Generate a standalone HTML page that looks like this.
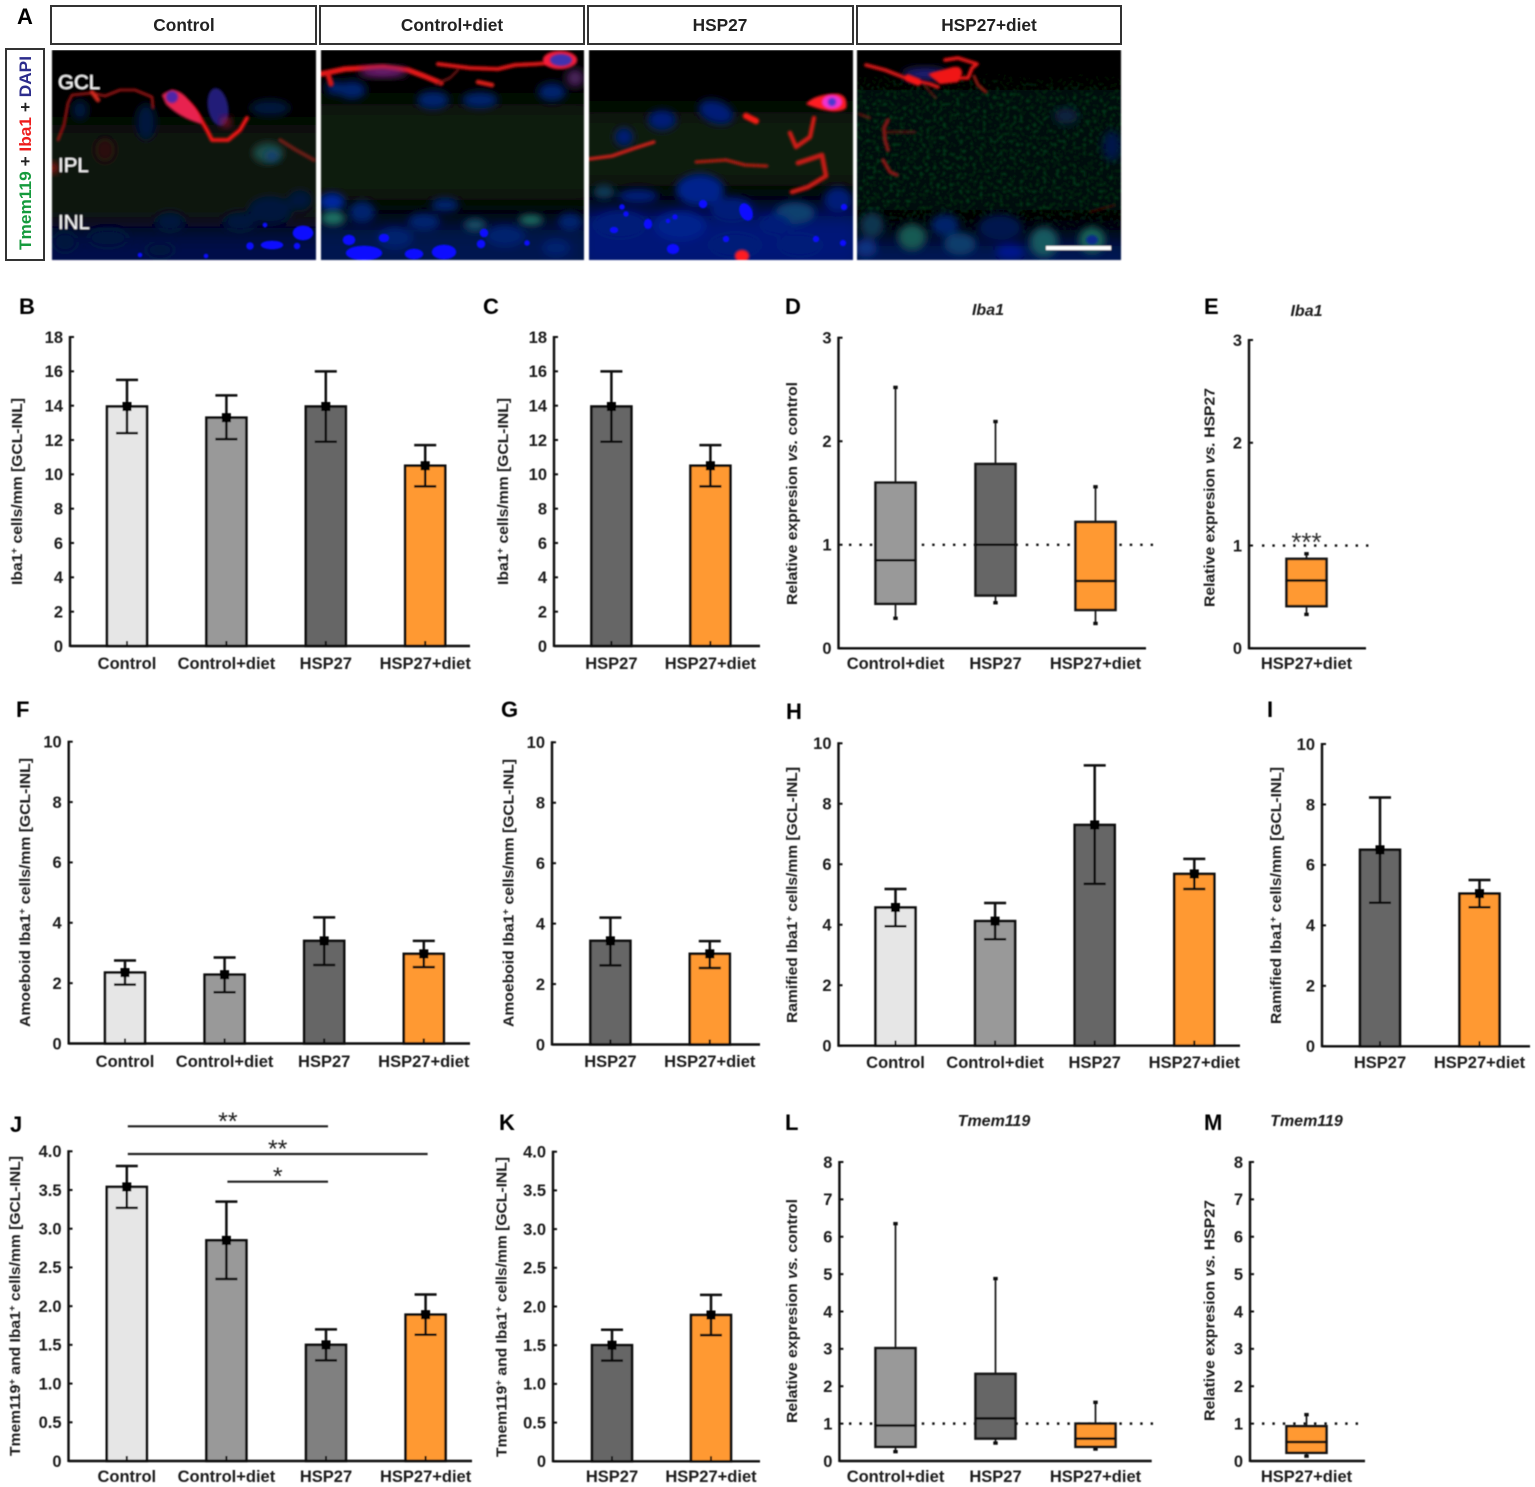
<!DOCTYPE html>
<html lang="en">
<head>
<meta charset="utf-8">
<title>Microglia figure: Iba1 and Tmem119 in control and HSP27 retinae</title>
<style>
html,body{margin:0;padding:0;background:#fff;}
#figure{display:block;width:1535px;height:1487px;font-family:"Liberation Sans",sans-serif;}
text{font-family:"Liberation Sans",sans-serif;}
</style>
</head>
<body>
<svg id="figure" xmlns="http://www.w3.org/2000/svg" width="1535" height="1487" viewBox="0 0 1535 1487">
<defs>
<filter id="b05" x="-20%" y="-20%" width="140%" height="140%"><feGaussianBlur stdDeviation="0.4"/></filter>
<filter id="soft" x="0" y="0" width="100%" height="100%"><feGaussianBlur stdDeviation="0.8"/></filter>
<filter id="b1" x="-30%" y="-30%" width="160%" height="160%"><feGaussianBlur stdDeviation="1"/></filter>
<filter id="b3" x="-40%" y="-40%" width="180%" height="180%"><feGaussianBlur stdDeviation="4"/></filter>
<filter id="b8" x="-30%" y="-60%" width="160%" height="220%"><feGaussianBlur stdDeviation="12"/></filter>
<filter id="speck" x="0" y="0" width="100%" height="100%" color-interpolation-filters="sRGB">
<feTurbulence type="fractalNoise" baseFrequency="0.3" numOctaves="2" seed="7"/>
<feColorMatrix type="matrix" values="0 0 0 0 0.02  0 0 0 0 0.26  0 0 0 0 0.09  0 5 0 0 -2.6"/>
<feGaussianBlur stdDeviation="0.7"/>
</filter>
<linearGradient id="speckFade" x1="0" y1="0" x2="0" y2="1">
<stop offset="0" stop-color="#fff" stop-opacity="0"/><stop offset="0.15" stop-color="#fff" stop-opacity="0.9"/><stop offset="0.8" stop-color="#fff" stop-opacity="0.9"/><stop offset="1" stop-color="#fff" stop-opacity="0"/>
</linearGradient>
<mask id="speckMask" maskUnits="userSpaceOnUse" x="857" y="70" width="264" height="170"><rect x="857" y="70" width="264" height="170" fill="url(#speckFade)"/></mask>
</defs>
<rect width="1535" height="1487" fill="#fff"/>

<text x="17" y="24" font-size="22" font-weight="700" fill="#000">A</text>

<g fill="#fff" stroke="#333" stroke-width="2">
<rect x="51" y="6" width="265" height="38"/>
<rect x="320" y="6" width="264" height="38"/>
<rect x="588" y="6" width="265" height="38"/>
<rect x="857" y="6" width="264" height="38"/>
</g>
<g font-size="17.3" font-weight="700" fill="#222" text-anchor="middle">
<text x="184" y="31">Control</text>
<text x="452" y="31">Control+diet</text>
<text x="720" y="31">HSP27</text>
<text x="989" y="31">HSP27+diet</text>
</g>

<g>
<rect x="6" y="49" width="38" height="211" fill="#fff" stroke="#333" stroke-width="2"/>
<text transform="translate(31,153) rotate(-90)" text-anchor="middle" font-size="16.5" font-weight="700" textLength="194" lengthAdjust="spacingAndGlyphs"><tspan fill="#149a3c">Tmem119</tspan><tspan fill="#222"> + </tspan><tspan fill="#ee1c1c">Iba1</tspan><tspan fill="#222"> + </tspan><tspan fill="#2c2c8c">DAPI</tspan></text>
</g>

<!-- Micrograph 1 -->
<g filter="url(#soft)">
<svg x="52" y="50" width="264" height="210" viewBox="52 50 264 210">
<rect x="52" y="50" width="264" height="210" fill="#000"/>
<rect x="30" y="125" width="310" height="105" fill="#07190b" filter="url(#b8)"/>
<rect x="30" y="228" width="310" height="60" fill="#00104a" filter="url(#b8)"/>
<g filter="url(#b3)" fill="#03123e">
<ellipse cx="146" cy="122" rx="10" ry="18"/><ellipse cx="80" cy="110" rx="8" ry="10"/><ellipse cx="270" cy="108" rx="20" ry="8"/>
<ellipse cx="170" cy="222" rx="14" ry="9"/><ellipse cx="270" cy="210" rx="22" ry="14"/><ellipse cx="240" cy="222" rx="16" ry="9"/><ellipse cx="300" cy="200" rx="12" ry="10"/>
<ellipse cx="108" cy="238" rx="20" ry="9"/><ellipse cx="160" cy="250" rx="14" ry="8"/><ellipse cx="65" cy="242" rx="12" ry="10"/>
</g>
<ellipse cx="268" cy="153" rx="15" ry="10" fill="#1a504c" filter="url(#b3)"/>
<ellipse cx="272" cy="156" rx="6" ry="5" fill="#123a80" filter="url(#b3)"/>
<ellipse cx="105" cy="150" rx="10" ry="12" fill="#2c0e0c" filter="url(#b3)"/>
<ellipse cx="218" cy="107" rx="10" ry="19" fill="#221a78" filter="url(#b1)" transform="rotate(-10 218 107)"/>
<ellipse cx="226" cy="122" rx="5" ry="5" fill="#a01438" filter="url(#b3)"/>
<g fill="none" stroke-linecap="round" stroke-linejoin="round" filter="url(#b1)">
<path d="M58 140 L64 125 L68 103 L72 95 L92 93 L105 96 L120 90 L135 90 L152 97 L153 108" stroke="#c81616" stroke-width="1.8"/>
<path d="M92 92 L98 100" stroke="#d82a1c" stroke-width="4"/>
<path d="M172 92 Q190 100 200 118 L208 132 L212 140 L228 140 L240 130 L247 118" stroke="#f81616" stroke-width="3.6"/>
<path d="M280 140 L296 150 L314 160" stroke="#6e1a12" stroke-width="3.5"/>
</g>
<path d="M162 95 Q176 84 188 100 Q200 112 202 124 Q180 118 166 104 Z" fill="#e82050" filter="url(#b1)"/>
<ellipse cx="172" cy="97" rx="6" ry="6" fill="#5026a8" filter="url(#b1)"/>
<circle cx="53" cy="168" r="5" fill="#b01c0e" filter="url(#b3)"/>
<g fill="#0808ff">
<ellipse cx="303" cy="233" rx="10" ry="7"/><ellipse cx="272" cy="245" rx="11" ry="4"/><circle cx="250" cy="246" r="3.5"/><circle cx="297" cy="246" r="3"/><circle cx="265" cy="225" r="2"/><circle cx="140" cy="255" r="2"/><circle cx="206" cy="256" r="2"/>
</g>
<g font-size="20.5" fill="#fff">
<text x="58" y="89">GCL</text>
<text x="58" y="172">IPL</text>
<text x="58" y="229">INL</text>
</g>
</svg>

<!-- Micrograph 2 -->
<svg x="321" y="50" width="263" height="210" viewBox="321 50 263 210">
<rect x="321" y="50" width="263" height="210" fill="#000"/>
<rect x="300" y="104" width="300" height="96" fill="#071a0c" filter="url(#b8)"/>
<rect x="300" y="222" width="300" height="60" fill="#001250" filter="url(#b8)"/>
<g filter="url(#b3)" fill="#04206e">
<ellipse cx="352" cy="90" rx="14" ry="9"/><ellipse cx="433" cy="100" rx="16" ry="9"/><ellipse cx="480" cy="100" rx="18" ry="8"/><ellipse cx="552" cy="92" rx="14" ry="9"/><ellipse cx="335" cy="88" rx="9" ry="7"/>
<ellipse cx="332" cy="202" rx="13" ry="9" fill="#0428a0"/><ellipse cx="362" cy="212" rx="13" ry="11"/><ellipse cx="424" cy="222" rx="16" ry="9"/><ellipse cx="445" cy="205" rx="14" ry="7"/><ellipse cx="505" cy="236" rx="20" ry="11"/><ellipse cx="570" cy="222" rx="12" ry="9"/><ellipse cx="556" cy="248" rx="14" ry="9"/><ellipse cx="395" cy="238" rx="18" ry="11"/>
</g>
<g filter="url(#b3)" fill="#1a7466">
<ellipse cx="333" cy="218" rx="12" ry="7"/><ellipse cx="531" cy="220" rx="12" ry="5"/><ellipse cx="475" cy="225" rx="11" ry="6" fill="#124f66"/>
</g>
<g fill="none" stroke-linecap="round" stroke-linejoin="round" filter="url(#b1)">
<path d="M321 74 L345 69 L383 67 L408 70 L424 76 L441 83" stroke="#e81818" stroke-width="5"/>
<path d="M328 74 L331 84" stroke="#d81616" stroke-width="5"/>
<path d="M438 64 L470 68 L498 69 L515 65 L536 64 L560 62" stroke="#ea1818" stroke-width="3.6"/>
<path d="M478 82 L492 85" stroke="#e01c16" stroke-width="4"/>
<path d="M458 70 L450 78 L436 84" stroke="#8a1414" stroke-width="1.8"/>
</g>
<ellipse cx="383" cy="72" rx="24" ry="5" fill="#7a2080" filter="url(#b3)"/>
<ellipse cx="560" cy="60" rx="17" ry="9" fill="#f81c3a" filter="url(#b1)"/>
<ellipse cx="561" cy="60" rx="11" ry="6" fill="#4030b0" filter="url(#b1)"/>
<ellipse cx="575" cy="78" rx="9" ry="9" fill="#48205a" filter="url(#b3)"/>
<g fill="#0808ff">
<ellipse cx="364" cy="253" rx="18" ry="7"/><ellipse cx="349" cy="240" rx="6" ry="5"/><ellipse cx="384" cy="238" rx="5" ry="4"/><ellipse cx="444" cy="252" rx="12" ry="7"/><ellipse cx="414" cy="254" rx="9" ry="5"/><circle cx="484" cy="233" r="4"/><circle cx="481" cy="244" r="4"/><circle cx="527" cy="243" r="2.5"/>
</g>
</svg>

<!-- Micrograph 3 -->
<svg x="589" y="50" width="264" height="210" viewBox="589 50 264 210">
<rect x="589" y="50" width="264" height="210" fill="#000"/>
<rect x="570" y="112" width="300" height="74" fill="#071a0c" filter="url(#b8)"/>
<rect x="570" y="208" width="300" height="70" fill="#001478" filter="url(#b8)"/>
<g filter="url(#b3)" fill="#041f78">
<ellipse cx="662" cy="120" rx="14" ry="10"/><ellipse cx="716" cy="112" rx="18" ry="11" transform="rotate(20 716 112)"/><ellipse cx="624" cy="137" rx="9" ry="9"/>
<ellipse cx="700" cy="190" rx="24" ry="16" fill="#06208c"/><ellipse cx="638" cy="196" rx="20" ry="7"/><ellipse cx="604" cy="192" rx="11" ry="7" fill="#083a58"/><ellipse cx="620" cy="225" rx="28" ry="15"/><ellipse cx="680" cy="226" rx="26" ry="15" fill="#06208c"/><ellipse cx="732" cy="210" rx="22" ry="13"/><ellipse cx="795" cy="213" rx="20" ry="11" fill="#0c406e"/><ellipse cx="838" cy="200" rx="14" ry="13"/><ellipse cx="735" cy="245" rx="28" ry="14"/><ellipse cx="800" cy="245" rx="24" ry="13"/><ellipse cx="775" cy="225" rx="16" ry="11"/>
</g>
<g fill="none" stroke-linecap="round" stroke-linejoin="round" filter="url(#b1)">
<path d="M589 159 L612 156 L635 148 L654 142" stroke="#e0241a" stroke-width="2.8"/>
<path d="M696 162 L726 160 L745 165 L767 166" stroke="#c81c18" stroke-width="2.6"/>
<path d="M814 118 L810 137 L796 147 L790 133" stroke="#d41c18" stroke-width="4"/>
<path d="M798 163 L822 155 L826 176 L808 187 L792 192" stroke="#c81a16" stroke-width="4.5"/>
<path d="M746 116 L756 121" stroke="#f81a12" stroke-width="6"/>
</g>
<path d="M806 104 Q815 94 838 94 Q848 96 846 108 Q836 116 806 104Z" fill="#ff1c24" filter="url(#b1)"/>
<ellipse cx="832" cy="102" rx="10" ry="7" fill="#f030d0" filter="url(#b1)"/>
<circle cx="832" cy="102" r="4" fill="#4838d0" filter="url(#b1)"/>
<ellipse cx="742" cy="256" rx="7" ry="6" fill="#ff1c24" filter="url(#b1)"/>
<g fill="#0808ff">
<ellipse cx="746" cy="212" rx="6" ry="9" transform="rotate(-25 746 212)"/><ellipse cx="614" cy="230" rx="4" ry="3"/><ellipse cx="648" cy="224" rx="4" ry="5"/><ellipse cx="673" cy="249" rx="6" ry="5"/><ellipse cx="703" cy="204" rx="4" ry="4"/><ellipse cx="844" cy="207" rx="3" ry="3"/><circle cx="622" cy="207" r="2.5"/><circle cx="626" cy="214" r="2.5"/><circle cx="816" cy="239" r="3"/><circle cx="675" cy="217" r="2.5"/><circle cx="668" cy="221" r="2"/><circle cx="726" cy="239" r="3"/><circle cx="843" cy="243" r="3"/>
</g>
</svg>

<!-- Micrograph 4 -->
<svg x="857" y="50" width="264" height="210" viewBox="857 50 264 210">
<rect x="857" y="50" width="264" height="210" fill="#000"/>
<rect x="840" y="90" width="300" height="120" fill="#04110a" filter="url(#b8)"/>
<g mask="url(#speckMask)"><rect x="857" y="70" width="264" height="170" filter="url(#speck)"/></g>
<rect x="840" y="238" width="300" height="40" fill="#031558" filter="url(#b8)"/>
<g filter="url(#b3)">
<ellipse cx="1066" cy="116" rx="12" ry="8" fill="#082240"/><ellipse cx="1112" cy="146" rx="9" ry="15" fill="#04134a"/>
<ellipse cx="872" cy="225" rx="12" ry="13" fill="#083450"/><ellipse cx="912" cy="237" rx="14" ry="13" fill="#165a52"/><ellipse cx="945" cy="225" rx="14" ry="11" fill="#03226a"/><ellipse cx="1000" cy="228" rx="22" ry="14" fill="#03164e"/><ellipse cx="960" cy="244" rx="16" ry="11" fill="#083e6c"/><ellipse cx="1044" cy="242" rx="14" ry="15" fill="#165a60"/><ellipse cx="1092" cy="240" rx="13" ry="13" fill="#186658"/><ellipse cx="866" cy="248" rx="11" ry="9" fill="#083080"/><ellipse cx="1010" cy="252" rx="14" ry="7" fill="#031490"/>
</g>
<ellipse cx="1092" cy="240" rx="6" ry="5" fill="#082a8c" filter="url(#b1)"/>
<ellipse cx="925" cy="74" rx="22" ry="6" fill="#1e1a78" filter="url(#b3)"/>
<g fill="none" stroke-linecap="round" stroke-linejoin="round" filter="url(#b1)">
<path d="M866 65 L885 70 L908 79 L930 84 L938 87" stroke="#e81818" stroke-width="3.2"/>
<path d="M908 78 L918 82" stroke="#f81616" stroke-width="7"/>
<path d="M934 75 L952 72 L958 78 L968 78 L972 68 L977 64 L958 58 L945 60" stroke="#f01616" stroke-width="3.2"/>
<path d="M974 76 L978 85 L986 92" stroke="#a81a16" stroke-width="2.4"/>
<path d="M925 86 L934 96 L936 98" stroke="#741812" stroke-width="1.5"/>
<path d="M859 114 L870 118" stroke="#6a1610" stroke-width="2"/>
<path d="M888 120 L884 128 L885 140 L888 150" stroke="#8a1812" stroke-width="3.4"/>
<path d="M886 132 L915 132" stroke="#6a1610" stroke-width="1.8"/>
<path d="M883 160 L890 172 L897 175" stroke="#9a1812" stroke-width="3"/>
<path d="M1090 212 L1115 205" stroke="#4a100a" stroke-width="1.5"/>
</g>
<path d="M928 74 L950 68 Q962 64 962 74 L958 82 L940 84 Z" fill="#f01616" filter="url(#b1)"/>
<rect x="1046" y="246" width="65" height="4" fill="#fff"/>
</svg>
</g>

<g id="charts" filter="url(#b05)"></g>
</svg>

<script>
// ---- category and tick arrays ----
const categoriesAll = ["Control", "Control+diet", "HSP27", "HSP27+diet"];
const categoriesPair = ["HSP27", "HSP27+diet"];
const categoriesExpr = ["Control+diet", "HSP27", "HSP27+diet"];
const categoriesSingle = ["HSP27+diet"];
const ticksIba = ["0","2","4","6","8","10","12","14","16","18"];
const ticksTen = ["0","2","4","6","8","10"];
const ticksTmem = ["0","0.5","1.0","1.5","2.0","2.5","3.0","3.5","4.0"];
const ticksExprIba = ["0","1","2","3"];
const ticksExprTmem = ["0","1","2","3","4","5","6","7","8"];

// ---- panel B ----
const bMeans = [13.95, 13.3, 13.95, 10.5];
const bUpper = [15.5, 14.6, 16.0, 11.7];
const bLower = [12.4, 12.05, 11.9, 9.3];
// ---- panel C ----
const cMeans = [13.95, 10.5];
const cUpper = [16.0, 11.7];
const cLower = [11.9, 9.3];
// ---- panel F ----
const fMeans = [2.35, 2.28, 3.4, 2.97];
const fUpper = [2.75, 2.85, 4.18, 3.4];
const fLower = [1.95, 1.7, 2.6, 2.53];
// ---- panel G ----
const gMeans = [3.43, 3.0];
const gUpper = [4.2, 3.42];
const gLower = [2.62, 2.53];
// ---- panel H ----
const hMeans = [4.57, 4.12, 7.3, 5.68];
const hUpper = [5.18, 4.72, 9.27, 6.18];
const hLower = [3.95, 3.52, 5.35, 5.18];
// ---- panel I ----
const iMeans = [6.5, 5.05];
const iUpper = [8.23, 5.5];
const iLower = [4.75, 4.6];
// ---- panel J ----
const jMeans = [3.54, 2.85, 1.5, 1.89];
const jUpper = [3.81, 3.35, 1.7, 2.15];
const jLower = [3.27, 2.35, 1.3, 1.63];
// ---- panel K ----
const kMeans = [1.5, 1.89];
const kUpper = [1.7, 2.15];
const kLower = [1.3, 1.63];
// ---- panel D ----
const dMax = [2.52, 2.19, 1.56];
const dQ3 = [1.6, 1.78, 1.22];
const dMedian = [0.85, 1.0, 0.65];
const dQ1 = [0.43, 0.51, 0.37];
const dMin = [0.29, 0.44, 0.24];
// ---- panel E ----
const eMax = [0.92];
const eQ3 = [0.87];
const eMedian = [0.66];
const eQ1 = [0.41];
const eMin = [0.33];
// ---- panel L ----
const lMax = [6.35, 4.88, 1.57];
const lQ3 = [3.02, 2.33, 1.0];
const lMedian = [0.95, 1.14, 0.6];
const lQ1 = [0.38, 0.6, 0.38];
const lMin = [0.25, 0.48, 0.32];
// ---- panel M ----
const mMax = [1.24];
const mQ3 = [0.93];
const mMedian = [0.51];
const mQ1 = [0.22];
const mMin = [0.13];
const referenceLevel = [1];
// significance brackets in panel J: [from category, to category, label]
const jBrackets = [[0, 2, "**"], [0, 3, "**"], [1, 2, "*"]];

const NS = "http://www.w3.org/2000/svg";
const root = document.getElementById("charts");
const fills = {"Control":"#e6e6e6","Control+diet":"#999999","HSP27":"#666666","HSP27+diet":"#ff9933"};
const INK = "#0c0c0c";

function mk(tag, attrs, parent) {
  const n = document.createElementNS(NS, tag);
  for (const k in attrs) n.setAttribute(k, attrs[k]);
  parent.appendChild(n);
  return n;
}
function xAt(L, i) { return L.x0 + i * L.step; }
function yAt(L, ticks, v) {
  const lo = parseFloat(ticks[0]), hi = parseFloat(ticks[ticks.length - 1]);
  return L.y0 - (v - lo) / (hi - lo) * (L.y0 - L.yTop);
}

function drawTitle(parent, L) {
  const t = mk("text", {transform:"translate(" + (L.titleX + 5) + "," + ((L.titleTop + L.titleBot) / 2) + ") rotate(-90)",
    "text-anchor":"middle","font-size":14.5,"font-weight":700,fill:"#1e1e1e",
    textLength:(L.titleBot - L.titleTop),lengthAdjust:"spacingAndGlyphs"}, parent);
  
  
  let pendingDy = 0;
  L.title.forEach(function (part) {
    const s = mk("tspan", {}, t);
    s.textContent = part.t;
    if (part.sup) { s.setAttribute("font-size", "9"); s.setAttribute("dy", "-5"); pendingDy = 5; }
    else if (pendingDy) { s.setAttribute("dy", String(pendingDy)); pendingDy = 0; }
    if (part.it) s.setAttribute("font-style", "italic");
  });
}

function drawFrame(g, L, ticks, cats) {
  const letter = mk("text", {x:L.letterX,y:L.letterY,"font-size":22,"font-weight":700,fill:"#000"}, g);
  
  
  letter.textContent = L.letter;
  drawTitle(g, L);
  ticks.forEach(function (lab) {
    const y = yAt(L, ticks, parseFloat(lab));
    const tick = mk("line", {x1:L.axisX,x2:L.axisX + 4,y1:y,y2:y,stroke:INK,"stroke-width":2}, g);
    
    
    const tl = mk("text", {x:L.axisX - 7,y:y + 5.8,"text-anchor":"end","font-size":16.5,"font-weight":700,fill:"#1e1e1e"}, g);
    
    
    tl.textContent = lab;
  });
  cats.forEach(function (c, i) {
    const cl = mk("text", {x:xAt(L, i),y:L.labelY,"text-anchor":"middle","font-size":16.5,"font-weight":700,fill:"#1e1e1e"}, g);
    
    
    cl.textContent = c;
  });
}
function drawAxes(g, L) {
  const ya = mk("line", {x1:L.axisX,x2:L.axisX,y1:L.yTop - 1,y2:L.y0 + 1,stroke:INK,"stroke-width":2.4}, g);
  
  
  const xa = mk("line", {x1:L.axisX,x2:L.axisEnd,y1:L.y0,y2:L.y0,stroke:INK,"stroke-width":2.4}, g);
  
  
}

function drawBars(name, L, ticks, cats, means, upper, lower, fillOverride) {
  const g = mk("g", {}, root);
  
  
  drawFrame(g, L, ticks, cats);
  cats.forEach(function (c, i) {
    const cx = xAt(L, i), yv = yAt(L, ticks, means[i]);
    const fill = (fillOverride && fillOverride[c]) || fills[c];
    const bar = mk("rect", {x:cx - 20,y:yv,width:40,height:L.y0 - yv,fill:fill,stroke:INK,"stroke-width":2.6}, g);
    
    
    const stem = mk("line", {x1:cx,x2:cx,y1:yAt(L, ticks, upper[i]),y2:yAt(L, ticks, lower[i]),stroke:INK,"stroke-width":2.5}, g);
    
    
    const capU = mk("line", {x1:cx - 11,x2:cx + 11,y1:yAt(L, ticks, upper[i]),y2:yAt(L, ticks, upper[i]),stroke:INK,"stroke-width":2.5}, g);
    
    
    const capL = mk("line", {x1:cx - 11,x2:cx + 11,y1:yAt(L, ticks, lower[i]),y2:yAt(L, ticks, lower[i]),stroke:INK,"stroke-width":2.5}, g);
    
    
    const dot = mk("rect", {x:cx - 4.5,y:yv - 4.5,width:9,height:9,fill:"#000"}, g);
    
    
    const xt = mk("line", {x1:cx,x2:cx,y1:L.y0,y2:L.y0 - 5,stroke:INK,"stroke-width":2}, g);
    
    
  });
  drawAxes(g, L);
  return g;
}

function drawBoxes(name, L, ticks, cats, wMax, q3, med, q1, wMin) {
  const g = mk("g", {}, root);
  
  
  drawFrame(g, L, ticks, cats);
  const gene = mk("text", {x:L.geneX,y:L.geneY,"text-anchor":"middle","font-size":16,"font-weight":700,"font-style":"italic",fill:"#1e1e1e"}, g);
  
  
  gene.textContent = L.gene;
  const refY = yAt(L, ticks, referenceLevel[0]);
  const ref = mk("line", {x1:L.refX1,x2:L.refX2,y1:refY,y2:refY,stroke:INK,"stroke-width":2.4,"stroke-dasharray":"2.4 8"}, g);
  
  
  cats.forEach(function (c, i) {
    const cx = xAt(L, i);
    const whisker = mk("line", {x1:cx,x2:cx,y1:yAt(L, ticks, wMax[i]),y2:yAt(L, ticks, wMin[i]),stroke:"#222","stroke-width":1.8}, g);
    
    
    const capTop = mk("rect", {x:cx - 2.2,y:yAt(L, ticks, wMax[i]) - 1.7,width:4.4,height:3.4,fill:"#111"}, g);
    
    
    const capBot = mk("rect", {x:cx - 2.2,y:yAt(L, ticks, wMin[i]) - 1.7,width:4.4,height:3.4,fill:"#111"}, g);
    
    
    const top = yAt(L, ticks, q3[i]), bot = yAt(L, ticks, q1[i]);
    const box = mk("rect", {x:cx - 20,y:top,width:40,height:bot - top,fill:fills[c],stroke:"#141414","stroke-width":2.6}, g);
    
    
    const m = yAt(L, ticks, med[i]);
    const median = mk("line", {x1:cx - 20,x2:cx + 20,y1:m,y2:m,stroke:"#0c0c0c","stroke-width":2.5}, g);
    
    
  });
  drawAxes(g, L);
  return g;
}

function ttl(a, sup, b) { return [{t:a},{t:sup,sup:true},{t:b}]; }
const ibaTitle = ttl("Iba1", "+", " cells/mm [GCL-INL]");
const amoTitle = ttl("Amoeboid Iba1", "+", " cells/mm [GCL-INL]");
const ramTitle = ttl("Ramified Iba1", "+", " cells/mm [GCL-INL]");
const tmTitle = [{t:"Tmem119"},{t:"+",sup:true},{t:" and Iba1"},{t:"+",sup:true},{t:" cells/mm [GCL-INL]"}];
const ctlTitle = [{t:"Relative expresion "},{t:"vs.",it:true},{t:" control"}];
const hspTitle = [{t:"Relative expresion "},{t:"vs.",it:true},{t:" HSP27"}];

drawBars("panel-b-iba1-cells", {letter:"B",letterX:19,letterY:314,x0:127,step:99.4,axisX:70,axisEnd:470,y0:646,yTop:337,labelY:669,title:ibaTitle,titleX:17,titleTop:398,titleBot:585}, ticksIba, categoriesAll, bMeans, bUpper, bLower);
drawBars("panel-c-iba1-cells", {letter:"C",letterX:483,letterY:314,x0:611.4,step:99,axisX:554,axisEnd:760,y0:646,yTop:337,labelY:669,title:ibaTitle,titleX:503,titleTop:398,titleBot:585}, ticksIba, categoriesPair, cMeans, cUpper, cLower);
drawBars("panel-f-amoeboid-cells", {letter:"F",letterX:16,letterY:717,x0:125,step:99.6,axisX:68.7,axisEnd:470,y0:1043.5,yTop:741.7,labelY:1067,title:amoTitle,titleX:25,titleTop:758,titleBot:1027}, ticksTen, categoriesAll, fMeans, fUpper, fLower);
drawBars("panel-g-amoeboid-cells", {letter:"G",letterX:501,letterY:717,x0:610.4,step:99.4,axisX:552,axisEnd:760,y0:1044.5,yTop:742.3,labelY:1067,title:amoTitle,titleX:508.5,titleTop:759,titleBot:1027}, ticksTen, categoriesPair, gMeans, gUpper, gLower);
drawBars("panel-h-ramified-cells", {letter:"H",letterX:786,letterY:719,x0:895.5,step:99.6,axisX:838.5,axisEnd:1240,y0:1045.7,yTop:743.3,labelY:1068,title:ramTitle,titleX:792,titleTop:767,titleBot:1023}, ticksTen, categoriesAll, hMeans, hUpper, hLower);
drawBars("panel-i-ramified-cells", {letter:"I",letterX:1267,letterY:717,x0:1380,step:99.5,axisX:1322,axisEnd:1530,y0:1046.3,yTop:744,labelY:1068,title:ramTitle,titleX:1276,titleTop:767,titleBot:1024}, ticksTen, categoriesPair, iMeans, iUpper, iLower);
const panelJLayout = {letter:"J",letterX:10,letterY:1132,x0:126.8,step:99.6,axisX:68.5,axisEnd:472,y0:1461,yTop:1151.3,labelY:1482,title:tmTitle,titleX:15,titleTop:1156,titleBot:1456};
const panelJ = drawBars("panel-j-double-positive-cells", panelJLayout, ticksTmem, categoriesAll, jMeans, jUpper, jLower, {"HSP27":"#808080"});
drawBars("panel-k-double-positive-cells", {letter:"K",letterX:499,letterY:1130,x0:612,step:99,axisX:553,axisEnd:760,y0:1461.3,yTop:1151.7,labelY:1482,title:tmTitle,titleX:501.5,titleTop:1157,titleBot:1457}, ticksTmem, categoriesPair, kMeans, kUpper, kLower);

const bracketRows = [1126.3, 1154, 1181.7];
jBrackets.forEach(function (b, i) {
  const x1 = xAt(panelJLayout, b[0]) + 1, x2 = xAt(panelJLayout, b[1]) + 2;
  const line = mk("line", {x1:x1,x2:x2,y1:bracketRows[i],y2:bracketRows[i],stroke:"#222","stroke-width":2.2}, panelJ);
  
  
  const star = mk("text", {x:(x1 + x2) / 2,y:bracketRows[i] + 3.5,"text-anchor":"middle","font-size":25,fill:"#222"}, panelJ);
  
  
  star.textContent = b[2];
});

drawBoxes("panel-d-iba1-expression", {letter:"D",letterX:785,letterY:314,x0:895.5,step:100,axisX:838.5,axisEnd:1146,y0:648.3,yTop:337.7,labelY:669,title:ctlTitle,titleX:792,titleTop:382,titleBot:605,gene:"Iba1",geneX:988,geneY:315,refX1:849,refX2:1153}, ticksExprIba, categoriesExpr, dMax, dQ3, dMedian, dQ1, dMin);
const panelE = drawBoxes("panel-e-iba1-expression", {letter:"E",letterX:1204,letterY:314,x0:1306.5,step:0,axisX:1249,axisEnd:1366,y0:648.3,yTop:340,labelY:669,title:hspTitle,titleX:1209.5,titleTop:388,titleBot:607,gene:"Iba1",geneX:1306.5,geneY:316,refX1:1262,refX2:1373}, ticksExprIba, categoriesSingle, eMax, eQ3, eMedian, eQ1, eMin);
const eStars = mk("text", {x:1306.5,y:551,"text-anchor":"middle","font-size":26,fill:"#333"}, panelE);


eStars.textContent = "***";
drawBoxes("panel-l-tmem119-expression", {letter:"L",letterX:785,letterY:1130,x0:895.5,step:100,axisX:839.4,axisEnd:1151.7,y0:1461,yTop:1162,labelY:1482,title:ctlTitle,titleX:792,titleTop:1199,titleBot:1423,gene:"Tmem119",geneX:994,geneY:1126,refX1:849,refX2:1153}, ticksExprTmem, categoriesExpr, lMax, lQ3, lMedian, lQ1, lMin);
drawBoxes("panel-m-tmem119-expression", {letter:"M",letterX:1204,letterY:1130,x0:1306.5,step:0,axisX:1250,axisEnd:1365,y0:1461,yTop:1162,labelY:1482,title:hspTitle,titleX:1209.5,titleTop:1200,titleBot:1421,gene:"Tmem119",geneX:1306.5,geneY:1126,refX1:1262,refX2:1364}, ticksExprTmem, categoriesSingle, mMax, mQ3, mMedian, mQ1, mMin);
</script>
</body>
</html>
